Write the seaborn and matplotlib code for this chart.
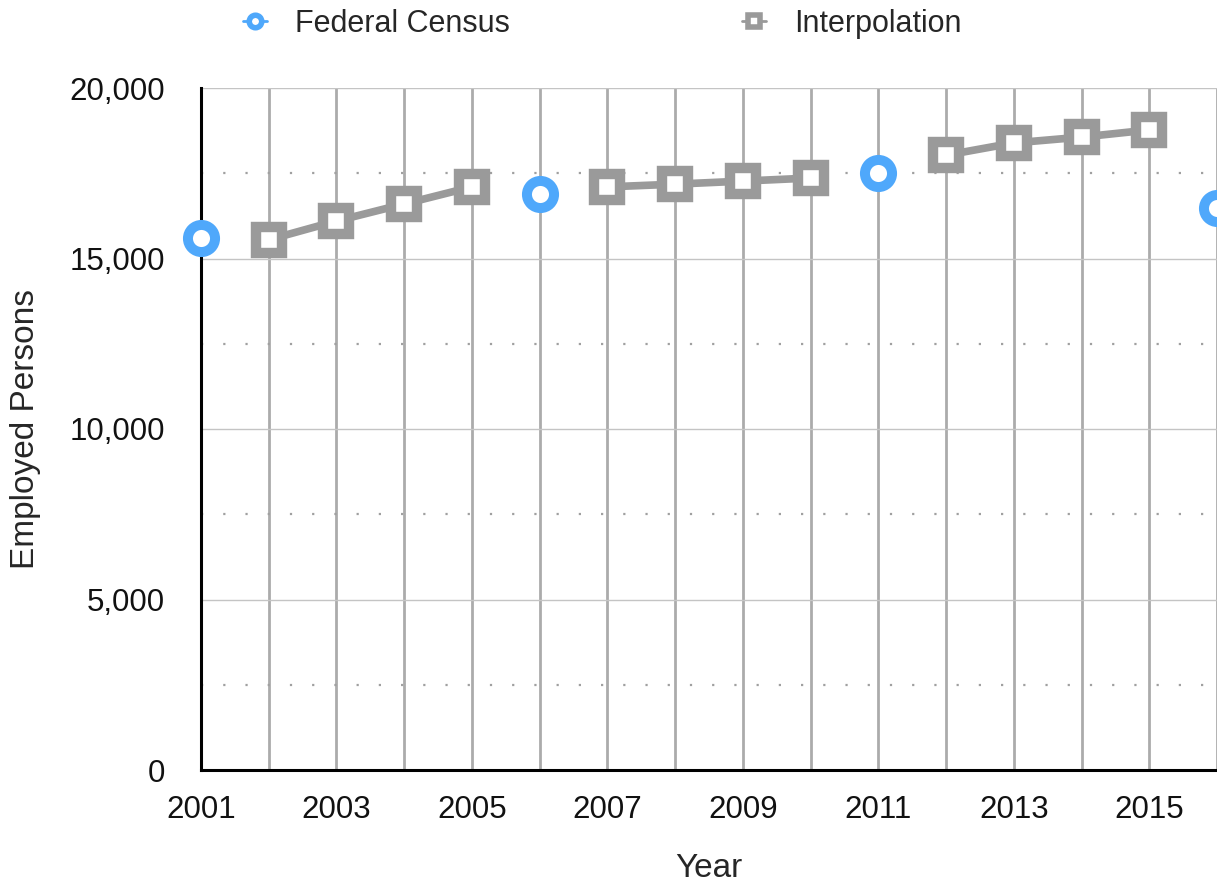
import matplotlib
matplotlib.use("Agg")
import matplotlib.pyplot as plt
import matplotlib.ticker as mticker
from matplotlib.lines import Line2D
import pandas as pd
import seaborn as sns

# Valeurs
census_years = [2001, 2006, 2011, 2016]
census_values = [15600, 16900, 17500, 16480]

interp_years = [2002, 2003, 2004, 2005, 2007, 2008, 2009, 2010, 2012, 2013, 2014, 2015]
interp_values = [15550, 16100, 16600, 17100, 17100, 17180, 17270, 17360, 18030, 18390, 18560, 18770]
interp_segment = [1, 1, 1, 1, 2, 2, 2, 2, 3, 3, 3, 3]

BLUE = "#4FA8FB"
GREY = "#9A9A9A"

census = pd.DataFrame({"year": census_years, "value": census_values})
interp = pd.DataFrame({"year": interp_years, "value": interp_values, "segment": interp_segment})

sns.set_style("white")
plt.rcParams["font.family"] = ["Liberation Sans", "DejaVu Sans"]

fig = plt.figure(figsize=(12.17, 8.86), dpi=100)
ax = fig.add_axes([201 / 1217, (886 - 770) / 886, 1 - 201 / 1217, (770 - 88) / 886])

# --- series ---
sns.lineplot(data=interp, x="year", y="value", units="segment", estimator=None,
             color=GREY, linewidth=5.5, marker="s", markersize=19,
             markerfacecolor="white", markeredgecolor=GREY, markeredgewidth=7.5,
             ax=ax, clip_on=False, zorder=3)
sns.scatterplot(data=census, x="year", y="value", marker="o", s=19.5 ** 2,
                facecolor="white", edgecolor=BLUE, linewidth=7.2,
                ax=ax, clip_on=False, zorder=4)

# --- grilles (apres seaborn, sinon les locators sont ecrases) ---
ax.set_xlim(2001, 2016)
ax.set_ylim(0, 20000)
ax.xaxis.set_major_locator(mticker.FixedLocator(range(2001, 2016, 2)))
ax.xaxis.set_minor_locator(mticker.MultipleLocator(1))
ax.yaxis.set_major_locator(mticker.MultipleLocator(5000))
ax.yaxis.set_minor_locator(mticker.MultipleLocator(2500))
ax.yaxis.set_major_formatter(mticker.FuncFormatter(lambda v, p: f"{int(v):,}"))
ax.xaxis.set_major_formatter(mticker.FuncFormatter(lambda v, p: f"{int(v)}"))
ax.grid(which="both", axis="x", color="#ABABAB", linewidth=2.0, linestyle="-")
ax.grid(which="major", axis="y", color="#C4C4C4", linewidth=1.0, linestyle="-")
ax.grid(which="minor", axis="y", color="#A0A0A0", linewidth=1.6, linestyle=(0, (1, 9)))
ax.set_axisbelow(True)

# --- axes ---
for side in ["top", "right"]:
    ax.spines[side].set_visible(False)
for side in ["left", "bottom"]:
    ax.spines[side].set_color("black")
    ax.spines[side].set_linewidth(2.2)
ax.tick_params(which="both", length=0, labelsize=22.5, colors="#111111")
ax.tick_params(axis="y", pad=26)
ax.tick_params(axis="x", pad=18)
ax.set_xlabel("Year", fontsize=24, labelpad=20)
ax.set_ylabel("Employed Persons", fontsize=24, labelpad=20)

# --- legende ---
handles = [
    Line2D([0], [0], color=BLUE, linewidth=2, marker="o", markersize=9,
           markerfacecolor="white", markeredgecolor=BLUE, markeredgewidth=4),
    Line2D([0], [0], color=GREY, linewidth=2, marker="s", markersize=9,
           markerfacecolor="white", markeredgecolor=GREY, markeredgewidth=4),
]
fig.legend(handles, ["Federal Census", "Interpolation"], loc="center left",
           bbox_to_anchor=(243 / 1217, 1 - 24 / 886), ncol=2, frameon=False,
           fontsize=22, handlelength=0.8, handletextpad=0.9, columnspacing=7.6,
           borderpad=0, borderaxespad=0)

fig.savefig("out.png", dpi=100)
